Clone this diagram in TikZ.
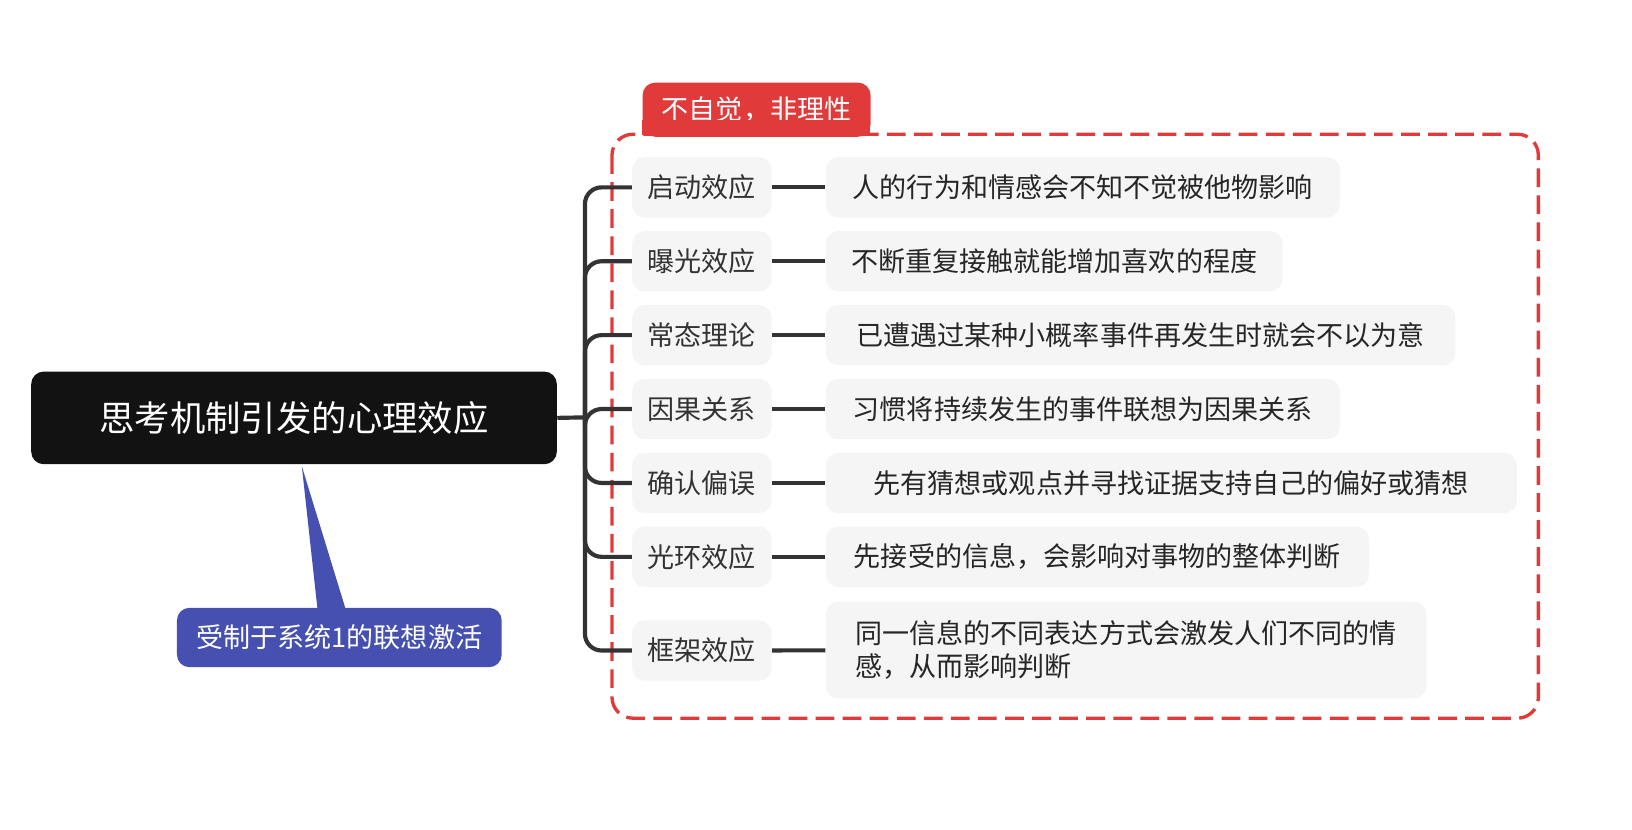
\documentclass[tikz,border=0pt]{standalone}
\usepackage{fontspec}
\setmainfont{Noto Sans CJK SC}
\definecolor{dk}{HTML}{333333}
\definecolor{rd}{HTML}{E03A3A}
\definecolor{bl}{HTML}{4650B0}
\definecolor{gr}{HTML}{F5F5F5}
\begin{document}
\begin{tikzpicture}[x=0.5pt,y=-0.5pt,
  lbox/.style={fill=gr,rounded corners=6pt,anchor=west,minimum width=67pt,minimum height=29pt,font=\fontsize{13}{16}\selectfont,text=dk,inner sep=0pt,align=center},
  rbox/.style={fill=gr,rounded corners=6pt,anchor=west,minimum height=29pt,font=\fontsize{13}{16}\selectfont,text=black!85,inner xsep=6pt,inner ysep=0pt,align=left},
  link/.style={dk,line width=2pt}]
\useasboundingbox (0,0) rectangle (1568,797);
\node[fill=black!93,rounded corners=6pt,minimum width=252.5pt,minimum height=44.5pt,text=white,font=\fontsize{17}{20}\selectfont] (root) at (282.5,401.5) {思考机制引发的心理效应};
\node[fill=bl,rounded corners=6pt,minimum width=156pt,minimum height=28.5pt,text=white,font=\fontsize{13}{16}\selectfont] (call) at (326,612.5) {受制于系统1的联想激活};
\fill[bl] (290,448) -- (305,585) -- (332,585) -- cycle;
\draw[rd,line width=1.6pt,dash pattern=on 9pt off 4pt,rounded corners=10pt] (588,129) rectangle (1478,690);
\node[fill=rd,rounded corners=6pt,minimum width=109.5pt,minimum height=26pt,text=white,font=\fontsize{13}{16}\selectfont,anchor=north west] (tag) at (617,79) {不自觉，非理性};
\fill[rd] (617,115) rectangle (836,130);
\coordinate (br) at (562,401);
\draw[link] (root.east) -- (br);
\foreach \i/\y/\a/\b/\w in {1/180/启动效应/人的行为和情感会不知不觉被他物影响/494,
  2/251/曝光效应/不断重复接触就能增加喜欢的程度/439,
  3/322/常态理论/已遭遇过某种小概率事件再发生时就会不以为意/605,
  4/393/因果关系/习惯将持续发生的事件联想为因果关系/494,
  5/464/确认偏误/先有猜想或观点并寻找证据支持自己的偏好或猜想/664,
  6/535/光环效应/先接受的信息，会影响对事物的整体判断/522}{
  \node[lbox] (l\i) at (607,\y) {\a};
  \node[rbox,minimum width=\w*0.5pt] (r\i) at (793,\y) {\b};
  \draw[link] (l\i) -- (r\i);
  \draw[link,rounded corners=8pt] (br) -- (562,\y) -- (l\i.west);
}
\node[lbox] (l7) at (607,625) {框架效应};
\node[rbox,minimum width=288.5pt,minimum height=46.5pt] (r7) at (793,624.5) {同一信息的不同表达方式会激发人们不同的情\\感，从而影响判断};
\draw[link] (l7) -- (r7);
\draw[link,rounded corners=8pt] (br) -- (562,625) -- (l7.west);
\end{tikzpicture}
\end{document}
